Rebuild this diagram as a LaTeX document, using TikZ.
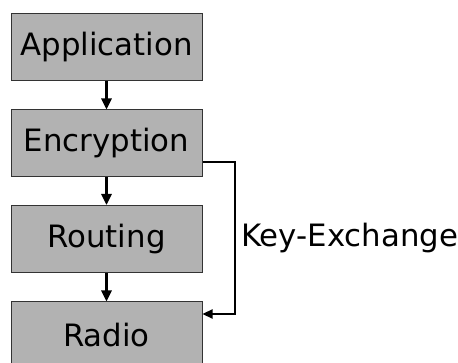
\documentclass[tikz,border=0pt]{standalone}
\usepackage{fontspec}
\setmainfont{DejaVu Sans}
\usetikzlibrary{arrows.meta}
\begin{document}
\begin{tikzpicture}[x=1pt,y=-1pt,
  layer/.style={draw=black!80, line width=1pt, fill=black!30,
    minimum width=191pt, minimum height=67pt, inner sep=0pt,
    font=\fontsize{30.8}{36}\selectfont},
  flow/.style={line width=2.6pt, -{Triangle[length=11pt,width=10pt]}},
  keyline/.style={line width=2.3pt, -{Triangle[length=10pt,width=9pt]}}
]
\clip (0,0) rectangle (458,363);
\fill[white] (0,0) rectangle (458,363);
\node[layer] (app) at (106.5,47.5)  {Application};
\node[layer] (enc) at (106.5,143.5) {Encryption};
\node[layer] (rout) at (106.5,239)  {Routing};
\node[layer] (radio) at (106.5,335.5) {Radio};
\draw[flow] (app) -- (enc);
\draw[flow] (enc) -- (rout);
\draw[flow] (rout) -- (radio);
\coordinate (kstart) at ([yshift=-18.5pt]enc.east);
\coordinate (kend) at ([yshift=21.5pt]radio.east);
\draw[keyline] (kstart) -- (235,162) -- (235,314) -- (kend);
\node[anchor=west, inner sep=0pt, font=\fontsize{30.8}{36}\selectfont] (kx) at (241,238) {Key-Exchange};
\end{tikzpicture}
\end{document}
